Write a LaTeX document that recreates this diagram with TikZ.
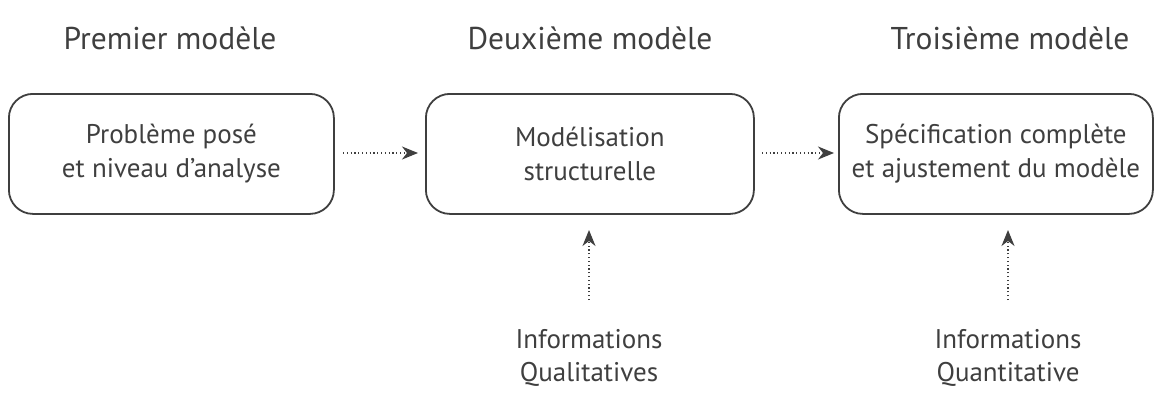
\documentclass[tikz,border=0pt]{standalone}
\usepackage{fontspec}
\setmainfont{PT Sans}
\usetikzlibrary{arrows.meta}
\definecolor{ink}{HTML}{3F3F3F}
\begin{document}
\begin{tikzpicture}[x=1pt,y=-1pt,
  box/.style={draw=ink,line width=1.8pt,rounded corners=24pt,minimum width=325pt,minimum height=120pt,align=center,text=ink,font=\fontsize{27}{34}\selectfont,anchor=north west},
  title/.style={text=ink,font=\fontsize{31.5}{36}\selectfont},
  info/.style={text=ink,align=center,font=\fontsize{27}{33}\selectfont},
  conn/.style={draw=ink,line width=1.2pt,dash pattern=on 1.2pt off 2.6pt,-{Stealth[length=16pt,width=13pt,inset=5pt]}}]
\useasboundingbox (0,0) rectangle (1160,392);
\node[title] (t1) at (170,38) {Premier modèle};
\node[title] (t2) at (590,38) {Deuxième modèle};
\node[title] (t3) at (1010,38) {Troisième modèle};
\node[box] (b1) at (8,93) {Problème posé\\et niveau d’analyse};
\node[box,minimum width=328pt] (b2) at (425,93) {Modélisation\\structurelle};
\node[box,minimum width=314pt] (b3) at (838,93) {Spécification complète\\et ajustement du modèle};
\node[info] (i1) at (589,358) {Informations\\Qualitatives};
\node[info] (i2) at (1008,358) {Informations\\Quantitative};
\coordinate (a1s) at (343,153);
\coordinate (a1e) at (418,153);
\coordinate (a2s) at (762,153);
\coordinate (a2e) at (834,153);
\coordinate (v1s) at (589,300);
\coordinate (v1e) at (589,230);
\coordinate (v2s) at (1008,300);
\coordinate (v2e) at (1008,230);
\draw[conn] (a1s) -- (a1e);
\draw[conn] (a2s) -- (a2e);
\draw[conn] (v1s) -- (v1e);
\draw[conn] (v2s) -- (v2e);
\end{tikzpicture}
\end{document}
